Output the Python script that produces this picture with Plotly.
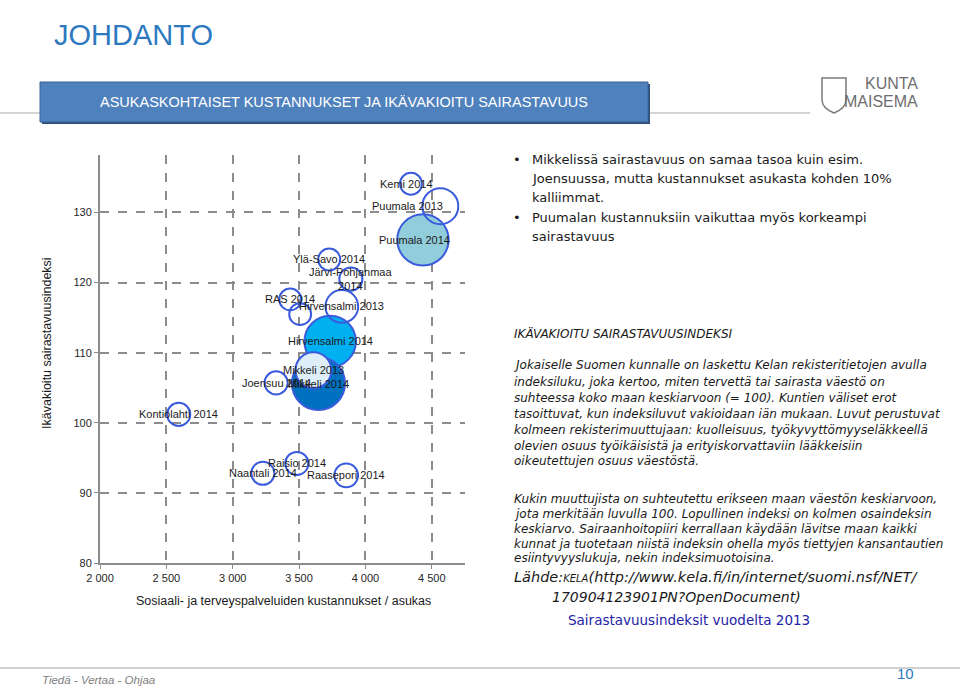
import plotly.graph_objects as go

# kuplat: täytetyt ensin, ääriviivakuplat päälle
kunnat = ["Puumala 2014", "Hirvensalmi 2014", "Mikkeli 2014", "Mikkeli 2013",
          "Kemi 2014", "Puumala 2013", "Ylä-Savo 2014", "Järvi-Pohjanmaa<br>2014",
          "RAS 2014", "", "Hirvensalmi 2013", "Joensuu 2014", "Kontiolahti 2014",
          "Raisio 2014", "Naantali 2014", "Raasepori 2014"]
kustannus = [4433, 3734, 3646, 3608,
             4343, 4564, 3727, 3890,
             3433, 3508, 3822, 3327, 2593,
             3483, 3227, 3855]
sairastavuus = [126.1, 111.6, 105.6, 107.5,
                134.1, 130.9, 123.3, 120.5,
                117.6, 115.5, 116.6, 105.7, 101.2,
                94.2, 92.8, 92.5]
koko = [4.7, 4.7, 5.0, 2.3,
        0.85, 2.3, 0.85, 0.95,
        0.85, 0.85, 1.9, 0.95, 0.95,
        0.95, 0.95, 1.0]
taytto = ["#92CDDC", "#00B0F0", "#0070C0", "#DDEEF8"] + ["rgba(0,0,0,0)"] * 12

x_ticks = [2000, 2500, 3000, 3500, 4000, 4500]
y_ticks = [80, 90, 100, 110, 120, 130]

W, H = 960, 688
L, R, T, B = 100, 495, 155, 125
PW, PH = W - L - R, H - T - B


def px(x):
    return (x - L) / PW


def py(y):
    return (H - B - y) / PH


CHART_FONT = "Liberation Sans, Arial, sans-serif"
TEXT_FONT = "DejaVu Sans, Verdana, sans-serif"

ann = []


def teksti(x, y, text, family, size, color="#1a1a1a", anchor="left", **kw):
    ann.append(dict(x=px(x), y=py(y), xref="paper", yref="paper", showarrow=False,
                    xanchor=anchor, yanchor="middle", text=text,
                    font=dict(family=family, size=size, color=color), **kw))


fig = go.Figure()
fig.add_trace(go.Scatter(
    x=kustannus, y=sairastavuus, mode="markers", hoverinfo="text",
    hovertext=kunnat,
    marker=dict(size=koko, sizemode="area", sizeref=2 * max(koko) / 53 ** 2,
                color=taytto, opacity=1, line=dict(color="#3A5BDB", width=2)),
))

label_shift = {"Puumala 2013": -33, "Puumala 2014": -8, "Kemi 2014": -4}
for name, xv, yv in zip(kunnat, kustannus, sairastavuus):
    if not name:
        continue
    ann.append(dict(x=xv, y=yv, xref="x", yref="y", text=name, showarrow=False,
                    xanchor="center", yanchor="middle",
                    xshift=label_shift.get(name, 0),
                    font=dict(family=CHART_FONT, size=11, color="#1a1a1a")))

# akselien otsikot
teksti(283, 601, "Sosiaali- ja terveyspalveluiden kustannukset / asukas",
       CHART_FONT, 12.5, anchor="center")
teksti(47, 343, "Ikävakioitu sairastavuusindeksi", CHART_FONT, 12.5,
       anchor="center", textangle=-90)

# otsikko, banneri ja logo
teksti(52, 35, "JOHDANTO", CHART_FONT, 29, color="#2C79C0")
teksti(344, 102, "ASUKASKOHTAISET KUSTANNUKSET JA IKÄVAKIOITU SAIRASTAVUUS",
       CHART_FONT, 14.5, color="white", anchor="center")
teksti(920, 84, "KUNTA", CHART_FONT, 16, color="#6e6e6e", anchor="right")
teksti(920, 101, "MAISEMA", CHART_FONT, 16, color="#6e6e6e", anchor="right")

# oikean palstan tekstit
bullets = [("Mikkelissä sairastavuus on samaa tasoa kuin esim.", 159),
           ("Joensuussa, mutta kustannukset asukasta kohden 10%", 178),
           ("kalliimmat.", 197),
           ("Puumalan kustannuksiin vaikuttaa myös korkeampi", 217),
           ("sairastavuus", 236)]
for txt, yy in bullets:
    teksti(530, yy, txt, TEXT_FONT, 13)
for yy in (159, 217):
    teksti(511, yy, "•", TEXT_FONT, 13)

kappale = [("IKÄVAKIOITU SAIRASTAVUUSINDEKSI", 333),
           ("Jokaiselle Suomen kunnalle on laskettu Kelan rekisteritietojen avulla", 365),
           ("indeksiluku, joka kertoo, miten tervettä tai sairasta väestö on", 381.5),
           ("suhteessa koko maan keskiarvoon (= 100). Kuntien väliset erot", 397.5),
           ("tasoittuvat, kun indeksiluvut vakioidaan iän mukaan. Luvut perustuvat", 413.5),
           ("kolmeen rekisterimuuttujaan: kuolleisuus, työkyvyttömyyseläkkeellä", 429.5),
           ("olevien osuus työikäisistä ja erityiskorvattaviin lääkkeisiin", 445.5),
           ("oikeutettujen osuus väestöstä.", 461),
           ("Kukin muuttujista on suhteutettu erikseen maan väestön keskiarvoon,", 498.5),
           ("jota merkitään luvulla 100. Lopullinen indeksi on kolmen osaindeksin", 513.5),
           ("keskiarvo. Sairaanhoitopiiri kerrallaan käydään lävitse maan kaikki", 528.5),
           ("kunnat ja tuotetaan niistä indeksin ohella myös tiettyjen kansantautien", 543.5),
           ("esiintyvyyslukuja, nekin indeksimuotoisina.", 558)]
for txt, yy in kappale:
    teksti(512, yy, "<i>" + txt + "</i>", TEXT_FONT, 12)

teksti(512, 577, "<i>Lähde:<span style='font-size:10px'>KELA</span>"
                 "(http://www.kela.fi/in/internet/suomi.nsf/NET/</i>", TEXT_FONT, 14.5)
teksti(550, 597, "<i>170904123901PN?OpenDocument)</i>", TEXT_FONT, 14)
teksti(566, 620, "Sairastavuusindeksit vuodelta 2013", TEXT_FONT, 13.5, color="#2323A8")

# alatunniste
teksti(40, 680, "<i>Tiedä - Vertaa - Ohjaa</i>", CHART_FONT, 11.5, color="#808080")
teksti(905, 673, "10", CHART_FONT, 15, color="#2C79C0", anchor="center")

shapes = [
    dict(type="line", xref="paper", yref="paper", x0=px(0), x1=px(810),
         y0=py(113), y1=py(113), line=dict(color="#d4d4d4", width=2), layer="below"),
    dict(type="rect", xref="paper", yref="paper", x0=px(42), x1=px(650),
         y0=py(84), y1=py(124), fillcolor="#2F4E78", line=dict(width=0), layer="below"),
    dict(type="rect", xref="paper", yref="paper", x0=px(40), x1=px(648),
         y0=py(82), y1=py(122), fillcolor="#4F81BD",
         line=dict(color="#3B6399", width=1), layer="below"),
    dict(type="line", xref="paper", yref="paper", x0=px(0), x1=px(960),
         y0=py(668), y1=py(668), line=dict(color="#cfcfcf", width=2), layer="below"),
    dict(type="path", xref="paper", yref="paper",
         path="M {a},{b} L {c},{b} L {c},{d} Q {c},{e} {m},{f} Q {a},{e} {a},{d} Z".format(
             a=px(822), c=px(846), m=px(834), b=py(78), d=py(100), e=py(108), f=py(113)),
         line=dict(color="#7a7a7a", width=1.5), layer="below"),
]

axis_common = dict(showline=True, linecolor="#8c8c8c", linewidth=2,
                   showgrid=True, gridcolor="#8c8c8c", gridwidth=1.5, griddash="dash",
                   ticks="outside", ticklen=4, tickcolor="#8c8c8c", zeroline=False,
                   tickfont=dict(family=CHART_FONT, size=11, color="#262626"))

fig.update_layout(
    width=W, height=H, autosize=False,
    margin=dict(l=L, r=R, t=T, b=B),
    paper_bgcolor="white", plot_bgcolor="white",
    showlegend=False, separators=", ",
    xaxis=dict(range=[2000, 4750], tickvals=x_ticks, tickformat=",d",
               ticksuffix=" €", **axis_common),
    yaxis=dict(range=[80, 138.2], tickvals=y_ticks, **axis_common),
    annotations=ann, shapes=shapes,
)

fig.write_html("out.html", config={"displayModeBar": False},
               post_script="document.body.style.margin='0';")
